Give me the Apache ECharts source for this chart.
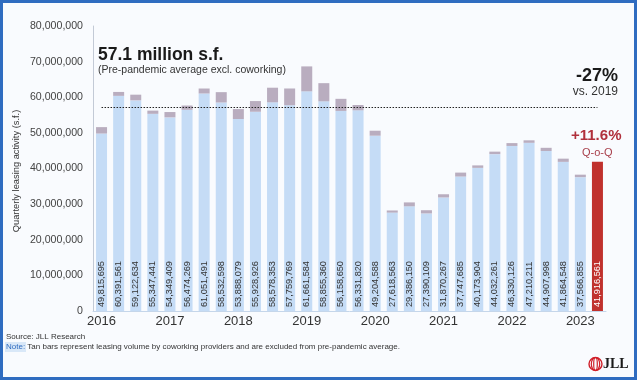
<!DOCTYPE html>
<html>
<head>
<meta charset="utf-8">
<script src="https://cdn.jsdelivr.net/npm/echarts@6/dist/echarts.min.js"></script>
<style>
html,body{margin:0;padding:0;background:#ffffff;}
#chart{width:640px;height:383px;}
</style>
</head>
<body>
<div id="chart"></div>
<script>
// Quarters 2016 Q1 .. 2023 Q2
var years = ['2016','2017','2018','2019','2020','2021','2022','2023'];
var quarters = [];
years.forEach(function(y){ ['Q1','Q2','Q3','Q4'].forEach(function(q){ quarters.push(y + ' ' + q); }); });
quarters = quarters.slice(0, 30);

// Leasing activity excluding coworking (light blue bars, labelled)
var baseValues = [
  49815695, 60391561, 59122634, 55347441, 54349409, 56474269, 61051491, 58532598,
  53888079, 55928926, 58578353, 57759769, 61661584, 58855360, 56158650, 56331820,
  49204588, 27618563, 29386150, 27390109, 31870267, 37747685, 40173904, 44032261,
  46330126, 47210211, 44907998, 41864548, 37566855, 41916561
];
// Coworking leasing (tan bars)
var coworkingValues = [
  1800000, 1100000, 1600000, 900000, 1500000, 1200000, 1400000, 2900000,
  2800000, 3000000, 4100000, 4700000, 7000000, 5100000, 3400000, 1500000,
  1400000, 600000, 1100000, 900000, 900000, 1100000, 700000, 700000,
  800000, 700000, 900000, 900000, 700000, 0
];
var prePandemicAvg = 57100000;
var yTicks = [0, 10000000, 20000000, 30000000, 40000000, 50000000, 60000000, 70000000, 80000000];

function fmt(n){ return String(n).replace(/\B(?=(\d{3})+(?!\d))/g, ','); }

var baseData = baseValues.map(function(v, i){
  if (i === baseValues.length - 1) {
    return {value: v, itemStyle: {color: '#c0312d'}, label: {color: '#ffffff'}};
  }
  return v;
});

var chart = echarts.init(document.getElementById('chart'), null, {renderer: 'canvas'});
var FONT = 'Arial, "Liberation Sans", sans-serif';

chart.setOption({
  animation: false,
  backgroundColor: '#ffffff',
  textStyle: {fontFamily: FONT},
  grid: {left: 93, right: 34, top: 26, bottom: 72, containLabel: false},
  xAxis: {
    type: 'category',
    data: quarters,
    axisLine: {show: true, lineStyle: {color: '#c5d6ea', width: 1}},
    axisTick: {show: false},
    axisLabel: {
      interval: 3,
      margin: 4,
      fontSize: 13,
      color: '#333333',
      fontFamily: FONT,
      formatter: function(v){ return v.split(' ')[0]; }
    }
  },
  yAxis: {
    type: 'value',
    min: yTicks[0],
    max: yTicks[yTicks.length - 1],
    interval: yTicks[1] - yTicks[0],
    axisLine: {show: true, lineStyle: {color: '#c3cad6', width: 1}},
    axisTick: {show: false},
    splitLine: {show: false},
    axisLabel: {fontSize: 10.6, color: '#444444', margin: 10, fontFamily: FONT, formatter: function(v){ return fmt(v); }}
  },
  series: [
    {
      name: 'Leasing excl. coworking',
      type: 'bar',
      stack: 'total',
      barWidth: 11,
      data: baseData,
      itemStyle: {color: '#c5dcf6'},
      label: {
        show: true,
        position: 'insideBottom',
        rotate: 90,
        align: 'left',
        verticalAlign: 'middle',
        distance: 4,
        fontSize: 9.2,
        color: '#333333',
        fontFamily: FONT,
        formatter: function(p){ return fmt(p.value); }
      },
      markLine: {
        silent: true,
        symbol: ['none', 'none'],
        label: {show: false},
        lineStyle: {color: '#222222', type: [1.5, 1.5], width: 1},
        data: [[{coord: [-0.5, prePandemicAvg]}, {coord: [28.8, prePandemicAvg]}]]
      }
    },
    {
      name: 'Coworking',
      type: 'bar',
      stack: 'total',
      barWidth: 11,
      data: coworkingValues,
      itemStyle: {color: '#b9adbf'}
    }
  ],
  graphic: [
    {type: 'rect', z: -10, shape: {x: 0, y: 0, width: 635, height: 379}, style: {fill: '#f9fbfe'}},
    {type: 'rect', z: 100, shape: {x: 1.5, y: 1.5, width: 634, height: 377}, style: {fill: 'none', stroke: '#2f6cc0', lineWidth: 3}},
    {type: 'text', left: 98, top: 46, z: 50, style: {text: '57.1 million s.f.', font: 'bold 17.5px ' + FONT, fill: '#1a1a1a'}},
    {type: 'text', left: 98, top: 65, z: 50, style: {text: '(Pre-pandemic average excl. coworking)', font: '10.5px ' + FONT, fill: '#333333'}},
    {type: 'text', right: 22, top: 67, z: 50, style: {text: '-27%', font: 'bold 18px ' + FONT, fill: '#1a1a1a', textAlign: 'right'}},
    {type: 'text', right: 22, top: 86, z: 50, style: {text: 'vs. 2019', font: '12px ' + FONT, fill: '#333333', textAlign: 'right'}},
    {type: 'text', left: 571, top: 128, z: 50, style: {text: '+11.6%', font: 'bold 15px ' + FONT, fill: '#b0303c'}},
    {type: 'text', left: 582, top: 147, z: 50, style: {text: 'Q-o-Q', font: '11px ' + FONT, fill: '#a8404c'}},
    {type: 'text', z: 50, x: 16, y: 171, rotation: Math.PI / 2, style: {text: 'Quarterly leasing activity (s.f.)', font: '9.3px ' + FONT, fill: '#333333', textAlign: 'center', textVerticalAlign: 'middle'}},
    {type: 'text', left: 6, top: 333, z: 50, style: {text: 'Source: JLL Research', font: '8px ' + FONT, fill: '#333333'}},
    {type: 'rect', left: 5, top: 342, z: 49, shape: {width: 21, height: 10}, style: {fill: '#d9e8f8'}},
    {type: 'text', left: 6, top: 343, z: 50, style: {
      text: '{a|Note:} Tan bars represent leasing volume by coworking providers and are excluded from pre-pandemic average.',
      font: '8px ' + FONT, fill: '#333333',
      rich: {a: {fill: '#2f6cc0', font: '8px ' + FONT}}
    }},
    // JLL logo
    {type: 'ellipse', z: 50, shape: {cx: 595.5, cy: 364, rx: 6.5, ry: 6.5}, style: {fill: 'none', stroke: '#d0202a', lineWidth: 1.4}},
    {type: 'ellipse', z: 50, shape: {cx: 595.5, cy: 364, rx: 4.2, ry: 6.5}, style: {fill: 'none', stroke: '#d0202a', lineWidth: 1.2}},
    {type: 'ellipse', z: 50, shape: {cx: 595.5, cy: 364, rx: 1.8, ry: 6.5}, style: {fill: 'none', stroke: '#d0202a', lineWidth: 1.2}},
    {type: 'text', left: 603, top: 357, z: 50, style: {text: 'JLL', font: 'bold 14px "Liberation Serif", "DejaVu Serif", serif', fill: '#1a1a1a'}}
  ]
});
</script>
</body>
</html>
